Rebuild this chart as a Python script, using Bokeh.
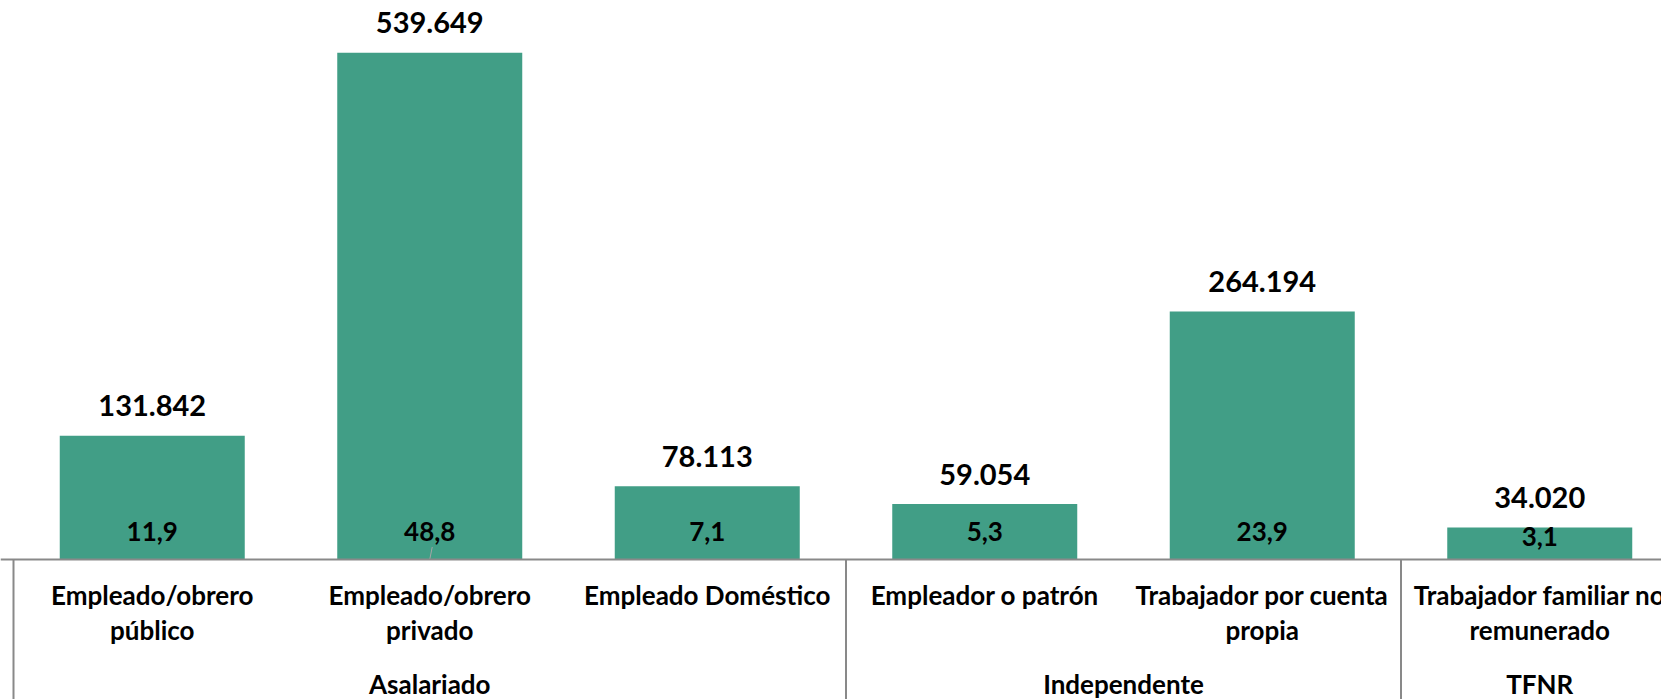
from bokeh.plotting import figure
from bokeh.models import ColumnDataSource, Range1d
from bokeh.core.properties import value
from bokeh.embed import file_html
from bokeh.resources import INLINE

# ---- data ----
categories = ["Empleado/obrero\npúblico", "Empleado/obrero\nprivado", "Empleado Doméstico",
              "Empleador o patrón", "Trabajador por cuenta\npropia",
              "Trabajador familiar no\nremunerado"]
values = [131842, 539649, 78113, 59054, 264194, 34020]
shares = [11.9, 48.8, 7.1, 5.3, 23.9, 3.1]
groups = ["Asalariado", "Independente", "TFNR"]
group_sizes = [3, 2, 1]

# ---- layout constants (pixels) ----
W, H = 1661, 699
AXIS_Y = 559          # canvas y of the category axis line
X0 = 13               # canvas x where the first category starts
CAT_PX = 277.5        # width of one category
PX_PER_UNIT = 0.939 / 1000
Y_END = AXIS_Y / PX_PER_UNIT
Y_START = -(H - AXIS_Y) / PX_PER_UNIT
BAR = "#419E86"
GREY = "#898989"
FONT = value("Lato")
FIX = 10              # text baseline correction

def dy(px):
    """pixel distance -> data units on the y scale"""
    return px / PX_PER_UNIT

def fmt_int(v):
    return f"{v:,}".replace(",", ".")

def fmt_dec(v):
    return f"{v:.1f}".replace(".", ",")

n = len(values)
xs = [i + 0.5 for i in range(n)]
x_lo, x_hi = -X0 / CAT_PX, (W - X0) / CAT_PX

p = figure(width=W, height=H, output_backend="svg", toolbar_location=None,
           x_range=Range1d(x_lo, x_hi), y_range=Range1d(Y_START, Y_END),
           x_axis_location=None, y_axis_location=None,
           min_border_left=0, min_border_right=0, min_border_top=0, min_border_bottom=0)
p.outline_line_color = None
p.grid.visible = False
p.background_fill_color = "white"
p.border_fill_color = "white"

# bars
src = ColumnDataSource(dict(x=xs, top=values))
p.vbar(x="x", top="top", bottom=0, width=2 / 3, source=src, fill_color=BAR, line_color=None)

# value labels above the bars
p.text(x=xs, y=[v + dy(20 + FIX) for v in values], text=[fmt_int(v) for v in values],
       text_align="center", text_baseline="alphabetic", text_font=FONT,
       text_font_style="bold", text_font_size="29px", text_color="black")

# share labels at the base of the bars
pct_y = [dy(min(18, v * PX_PER_UNIT - 19) + FIX) for v in values]
p.text(x=xs, y=pct_y, text=[fmt_dec(s) for s in shares],
       text_align="center", text_baseline="alphabetic", text_font=FONT,
       text_font_style="bold", text_font_size="26px", text_color="black")

# leader line of the share label of the tallest bar
imax = values.index(max(values))
p.segment(x0=[xs[imax] + 0.009], y0=[dy(12.5)], x1=[xs[imax]], y1=[0],
          line_color="#A6A6A6", line_width=1)

# category axis line
p.segment(x0=[x_lo], y0=[0], x1=[x_hi], y1=[0], line_color=GREY, line_width=2)

# category labels (one or two lines)
line1 = [c.split("\n")[0] for c in categories]
line2 = [c.split("\n")[1] if "\n" in c else "" for c in categories]
p.text(x=xs, y=[-dy(45 - FIX)] * n, text=line1, text_align="center", text_baseline="alphabetic",
       text_font=FONT, text_font_style="bold", text_font_size="26px", text_color="black")
p.text(x=xs, y=[-dy(80 - FIX)] * n, text=line2, text_align="center", text_baseline="alphabetic",
       text_font=FONT, text_font_style="bold", text_font_size="26px", text_color="black")

# group labels and separators
starts, centers = [], []
s = 0
for k in group_sizes:
    starts.append(s)
    centers.append(s + k / 2)
    s += k
p.text(x=centers, y=[-dy(134 - FIX)] * len(groups), text=groups, text_align="center",
       text_baseline="alphabetic", text_font=FONT, text_font_style="bold",
       text_font_size="26px", text_color="black")
p.segment(x0=starts, y0=[0] * len(starts), x1=starts, y1=[Y_START] * len(starts),
          line_color=GREY, line_width=2)

open("out.html", "w").write(file_html(p, INLINE))
